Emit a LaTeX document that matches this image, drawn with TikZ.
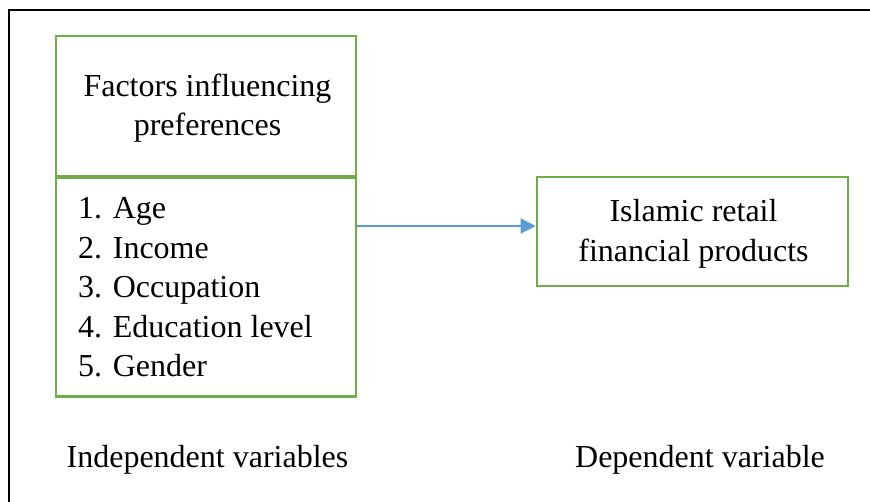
\documentclass[tikz,border=0pt]{standalone}
\usepackage{fontspec}
\setmainfont{Liberation Serif}
\usetikzlibrary{arrows.meta}
\definecolor{boxgreen}{HTML}{70AD47}
\definecolor{arrowblue}{HTML}{5B9BD5}
\begin{document}
\begin{tikzpicture}[x=1pt,y=-1pt,
  gbox/.style={draw=boxgreen,line width=2.6pt,inner sep=0pt},
  txt/.style={inner sep=0pt,font=\fontsize{32}{39.5}\selectfont},
  link/.style={draw=arrowblue,line width=1.4pt,-{Triangle[length=15pt,width=15pt]}}]
\useasboundingbox (0,0) rectangle (870,502);
% outer frame (only top and left edges visible)
\coordinate (fbl) at (9,503);
\coordinate (ftl) at (9,10);
\coordinate (ftr) at (871,10);
\draw[line width=2.6pt] (fbl) -- (ftl) -- (ftr);
% boxes
\node[gbox,minimum width=300pt,minimum height=140pt] (top) at (206,106) {};
\node[gbox,minimum width=300pt,minimum height=218.5pt] (list) at (206,287.25) {};
\node[gbox,minimum width=311pt,minimum height=109pt] (dep) at (692.5,231.5) {};
% texts
\node[txt,anchor=base] (t1) at (207.5,97) {Factors influencing};
\node[txt,anchor=base] (t2) at (207.5,136) {preferences};
\node[txt,anchor=base west] (i1) at (78,219) {1. Age};
\node[txt,anchor=base west] (i2) at (78,258.5) {2. Income};
\node[txt,anchor=base west] (i3) at (78,298) {3. Occupation};
\node[txt,anchor=base west] (i4) at (78,337.5) {4. Education level};
\node[txt,anchor=base west] (i5) at (78,377) {5. Gender};
\node[txt,anchor=base] (d1) at (693.5,222) {Islamic retail};
\node[txt,anchor=base] (d2) at (693.5,262) {financial products};
\node[txt,anchor=base] (lin) at (207.5,467) {Independent variables};
\node[txt,anchor=base] (ldep) at (700,467) {Dependent variable};
% connector
\draw[link] (list.east |- 0,226) -- (dep.west |- 0,226);
\end{tikzpicture}
\end{document}
